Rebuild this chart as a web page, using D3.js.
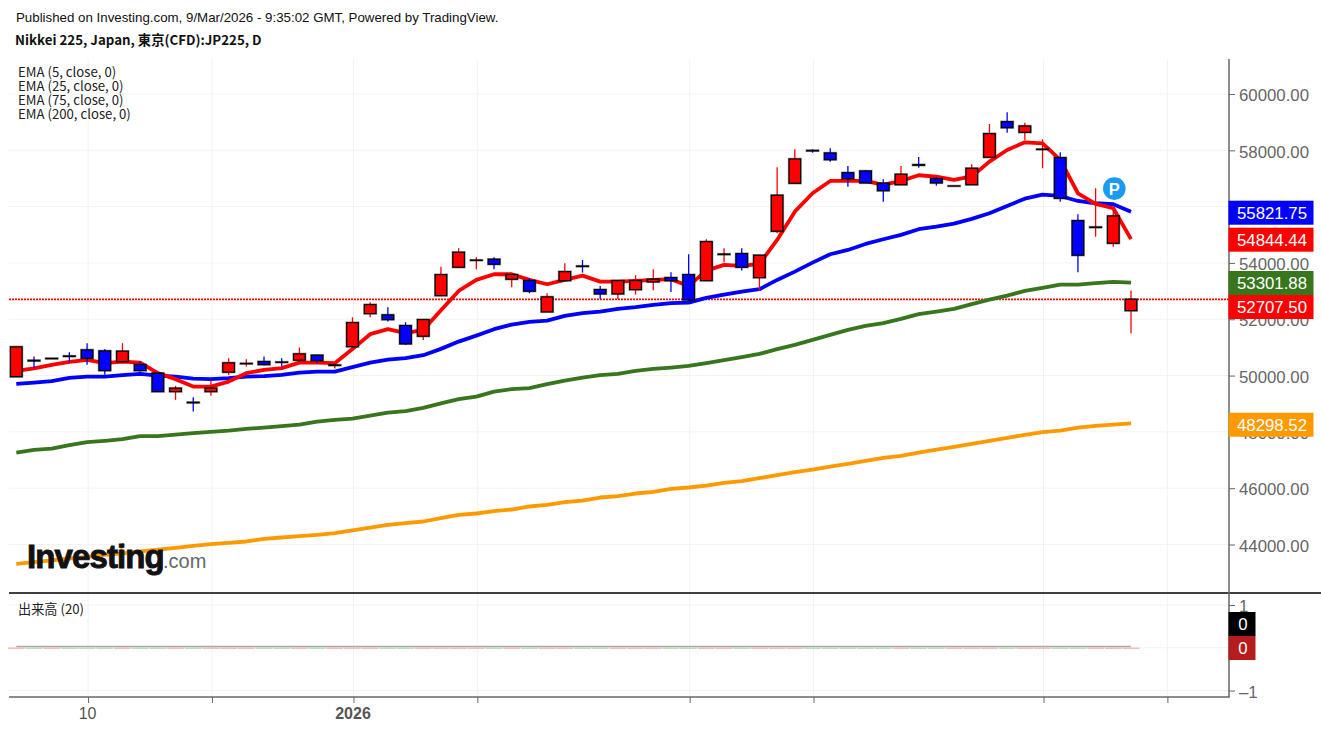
<!DOCTYPE html>
<html>
<head>
<meta charset="utf-8">
<script src="https://cdn.jsdelivr.net/npm/d3@7"></script>
<style>
html, body { margin: 0; padding: 0; background: #fff; }
svg { display: block; }
text { font-family: "Liberation Sans", Arial, sans-serif; }
</style>
</head>
<body>
<svg id="chart" width="1321" height="730"></svg>
<script>
// daily candles
var opens = [49960,50540,50600,50695,50912,50876,50497,50390,50085,49431,49050,49431,50121,50420,50497,50480,50546,50724,50360,51029,
  52201,52155,51775,51398,52840,53848,54090,54132,53422,53372,52261,53372,53890,53053,52900,53053,53326,53479,53585,53372,
  54300,54331,53479,55126,56830,57995,57906,57206,57267,56830,56780,57490,56993,56730,56780,57753,59017,58640,58030,57739,
  55502,55260,54700,52307];
var highs = [51020,50674,50620,50830,51150,50937,51150,50497,50085,49634,49233,49822,50618,50582,50674,50618,50994,50724,50440,52073,
  52605,52428,51895,51988,53869,54523,54203,54203,53635,53457,52925,53990,54107,53184,53372,53564,53777,53670,54309,54842,
  54523,54523,54274,57398,58037,58037,58072,57444,57291,56972,57444,57764,57043,56740,57504,58935,59350,58981,58392,57930,
  55729,56653,55953,53017];
var lows = [49960,50262,50590,50461,50380,50025,50497,50142,49430,49137,48722,49279,50025,50319,50369,50319,50532,50426,50248,51029,
  52073,51917,51090,51267,52829,53848,53777,53777,53138,52925,52261,53372,53656,52722,52722,52875,53031,52971,52662,53372,
  54025,53727,53017,55055,56830,57916,57597,56709,56830,56177,56780,57384,56745,56725,56780,57753,58626,58367,57362,56177,
  53670,54934,54579,51505];
var closes = [51020,50520,50610,50680,50618,50177,50866,50177,49431,49552,49035,49552,50451,50430,50390,50470,50770,50532,50375,51881,
  52520,51988,51125,51988,53585,54380,54100,53954,53585,52996,52794,53692,53875,52900,53372,53372,53422,53372,52687,54757,
  54315,53848,54274,56404,57693,57980,57668,56993,56841,56567,57149,57470,56841,56735,57362,58591,58804,58864,58040,56297,
  54274,55275,55669,52707];

var ema5 = [50167,50255,50380,50486,50557,50440,50497,50461,50085,49872,49609,49609,49787,50085,50202,50262,50461,50461,50440,50947,
  51469,51647,51505,51622,52321,53006,53397,53599,53599,53397,53244,53397,53550,53337,53337,53362,53397,53422,53184,53727,
  53930,53894,53965,54817,55822,56475,56912,56912,56912,56770,56912,57114,57064,56947,57071,57597,58012,58285,58250,57657,
  56475,56095,55942,54844];
var ema25 = [49705,49751,49801,49918,49964,49964,50014,50060,50000,49964,49893,49872,49907,49964,49978,50025,50106,50142,50142,50298,
  50461,50568,50618,50724,50948,51207,51420,51647,51810,51906,51952,52119,52215,52272,52368,52428,52510,52570,52591,52758,
  52875,52982,53067,53397,53692,54011,54309,54462,54675,54842,54995,55197,55289,55396,55563,55765,56024,56283,56425,56379,
  56201,56120,56085,55822];
var ema75 = [47266,47362,47408,47529,47635,47682,47742,47849,47849,47905,47955,48001,48047,48107,48154,48203,48260,48367,48427,48473,
  48580,48686,48736,48853,49013,49162,49254,49432,49517,49552,49695,49822,49929,50014,50060,50166,50237,50284,50344,50440,
  50546,50653,50770,50937,51090,51267,51445,51622,51764,51860,52012,52180,52272,52368,52535,52698,52840,53006,53113,53230,
  53230,53280,53326,53302];
var ema200 = [43315,43375,43440,43503,43564,43635,43688,43759,43819,43883,43954,44014,44060,44107,44202,44249,44298,44345,44405,44500,
  44603,44700,44760,44817,44937,45055,45101,45186,45243,45350,45410,45505,45562,45669,45718,45811,45871,45977,46024,46095,
  46191,46251,46357,46464,46571,46663,46769,46865,46972,47078,47149,47266,47373,47469,47575,47682,47788,47895,47991,48048,
  48154,48214,48260,48299];

var priceTicks = [44000,46000,48000,50000,52000,54000,56000,58000,60000];
var volumeTicks = [-1,0,1];
var dateTickIdx = [4,11,19,26,38,45,58,65];
var dateTickLabels = ["10","","2026","","","","",""];
var legendLabels = ["EMA (5, close, 0)","EMA (25, close, 0)","EMA (75, close, 0)","EMA (200, close, 0)"];
var lastPrice = 52707.5;
var volumes = closes.map(function() { return 0; });
var markerIdx = 62;
var markerPrice = 56640;

var svg = d3.select("#chart");
var x = d3.scaleLinear().domain([0, 63]).range([16.3, 1131]);
var y = d3.scaleLinear().domain([44000, 60000]).range([544.5, 94]);
var yVol = d3.scaleLinear().domain([-1, 1]).range([690.5, 605]);

var plotLeft = 9, plotRight = 1229, plotTop = 59, paneSep = 593, plotBottom = 697;
var axisCol = "#666", tickCol = "#666", gridCol = "#f3f3f3";

// grid
var grid = svg.append("g").attr("stroke", gridCol).attr("stroke-width", 1);
grid.selectAll(".gy").data(priceTicks).enter().append("line")
  .attr("x1", plotLeft).attr("x2", plotRight)
  .attr("y1", function(d) { return y(d); }).attr("y2", function(d) { return y(d); });
grid.selectAll(".gv").data(volumeTicks).enter().append("line")
  .attr("x1", plotLeft).attr("x2", plotRight)
  .attr("y1", function(d) { return yVol(d); }).attr("y2", function(d) { return yVol(d); });
grid.selectAll(".gx").data(dateTickIdx).enter().append("line")
  .attr("x1", function(d) { return x(d) + 1; }).attr("x2", function(d) { return x(d) + 1; })
  .attr("y1", plotTop).attr("y2", plotBottom);

// last price line
svg.append("line")
  .attr("x1", plotLeft).attr("x2", plotRight)
  .attr("y1", y(lastPrice)).attr("y2", y(lastPrice))
  .attr("stroke", "#ff0000").attr("stroke-width", 1.6).attr("stroke-dasharray", "2,1");

// moving averages
var line = d3.line().x(function(d, i) { return x(i); }).y(function(d) { return y(d); });
var emaSeries = [
  { values: ema200, color: "#ff9900" },
  { values: ema75, color: "#38761d" },
  { values: ema25, color: "#0000ff" },
  { values: ema5, color: "#ff0000" }
];
svg.selectAll(".ema").data(emaSeries).enter().append("path")
  .attr("fill", "none")
  .attr("stroke", function(d) { return d.color; })
  .attr("stroke-width", 3.8)
  .attr("stroke-linejoin", "round")
  .attr("d", function(d) { return line(d.values); });

// candles
var candles = svg.append("g").selectAll("g").data(closes).enter().append("g");
var isUp = function(i) { return closes[i] >= opens[i]; };
candles.append("line")
  .attr("x1", function(d, i) { return x(i); }).attr("x2", function(d, i) { return x(i); })
  .attr("y1", function(d, i) { return y(highs[i]); }).attr("y2", function(d, i) { return y(lows[i]); })
  .attr("stroke", function(d, i) { return isUp(i) ? "#ff0000" : "#0000ff"; })
  .attr("stroke-width", 1.3);
var bodyRect = function(sel) {
  sel.attr("x", function(d, i) { return x(i) - 5.8; })
    .attr("width", 11.6)
    .attr("y", function(d, i) { return y(Math.max(opens[i], closes[i])); })
    .attr("height", function(d, i) { return Math.abs(y(opens[i]) - y(closes[i])); });
};
candles.append("rect").call(bodyRect)
  .attr("fill", "none").attr("stroke", "#000").attr("stroke-opacity", 0.4).attr("stroke-width", 2.4);
candles.append("rect").call(bodyRect)
  .attr("fill", function(d, i) { return isUp(i) ? "#ff0000" : "#0000ff"; })
  .attr("stroke", "#000").attr("stroke-width", 1.2);

// marker
svg.append("circle").attr("cx", x(markerIdx) + 1).attr("cy", y(markerPrice)).attr("r", 11.3).attr("fill", "#1a9af0");
svg.append("text").attr("x", x(markerIdx) + 1).attr("y", y(markerPrice) + 6).attr("text-anchor", "middle")
  .attr("font-size", 16.5).attr("font-weight", "bold").attr("fill", "#fff").text("P");

// logo
svg.append("line").attr("x1", 121).attr("y1", 550).attr("x2", 123).attr("y2", 543)
  .attr("stroke", "#ff9900").attr("stroke-width", 2);
svg.append("text").attr("x", 27).attr("y", 568)
  .attr("font-size", 33).attr("font-weight", "bold").attr("letter-spacing", -0.9)
  .attr("fill", "#111").attr("stroke", "#111").attr("stroke-width", 0.9).text("Investing");
svg.append("text").attr("x", 163).attr("y", 568)
  .attr("font-size", 20).attr("fill", "#666").text(".com");

// volume pane
svg.selectAll(".vol").data(volumes).enter().append("rect")
  .attr("x", function(d, i) { return x(i) - 8.4; })
  .attr("width", 16.8)
  .attr("y", function(d) { return yVol(d) - 0.2; })
  .attr("height", 1.4)
  .attr("fill", function(d, i) { return isUp(i) ? "#f7b7b7" : "#b5e0b5"; });
var volLine = d3.line().x(function(d, i) { return x(i); }).y(function(d) { return yVol(d) - 1.2; });
svg.append("path").attr("fill", "none").attr("stroke", "#aaa").attr("stroke-width", 1.6).attr("d", volLine(volumes));

// frame
svg.append("line").attr("x1", plotLeft).attr("x2", 1321).attr("y1", paneSep).attr("y2", paneSep).attr("stroke", "#000").attr("stroke-width", 1.5);
svg.append("line").attr("x1", plotLeft).attr("x2", plotRight + 0.7).attr("y1", plotBottom).attr("y2", plotBottom).attr("stroke", axisCol).attr("stroke-width", 1.5);
svg.append("line").attr("x1", plotRight).attr("x2", plotRight).attr("y1", plotTop).attr("y2", plotBottom).attr("stroke", axisCol).attr("stroke-width", 1.5);

// axes
var styleAxis = function(g) {
  g.select(".domain").remove();
  g.selectAll("line").attr("stroke", tickCol).attr("stroke-width", 1);
  g.selectAll("text").attr("fill", tickCol).attr("font-size", 16.8).attr("font-family", "Liberation Sans").attr("dy", "0.4em");
};
svg.append("g").attr("transform", "translate(" + plotRight + ",0)")
  .call(d3.axisRight(y).tickValues(priceTicks).tickSize(6).tickPadding(4).tickFormat(function(d) { return d.toFixed(2); }))
  .call(styleAxis);
svg.append("g").attr("transform", "translate(" + plotRight + ",0)")
  .call(d3.axisRight(yVol).tickValues(volumeTicks).tickSize(6).tickPadding(4).tickFormat(function(d) { return String(d).replace("-", "–"); }))
  .call(styleAxis);
svg.append("g").attr("transform", "translate(1," + plotBottom + ")")
  .call(d3.axisBottom(x).tickValues(dateTickIdx).tickSize(6).tickPadding(5).tickFormat(function(d, i) { return dateTickLabels[i]; }))
  .call(styleAxis)
  .selectAll("text").attr("font-size", 16).attr("fill", "#555").attr("dy", "0.71em").attr("dx", -1)
  .attr("font-weight", function(d, i) { return dateTickLabels[i] === "2026" ? "bold" : "normal"; });

// price labels on the right
var priceBoxes = [
  { text: "55821.75", color: "#0000ff", cy: 212.7, w: 85 },
  { text: "54844.44", color: "#ff0000", cy: 239.7, w: 85 },
  { text: "53301.88", color: "#38761d", cy: 283, w: 85 },
  { text: "52707.50", color: "#ff0000", cy: 307, w: 85 },
  { text: "48298.52", color: "#ff9900", cy: 424.7, w: 85 },
  { text: "0", color: "#000000", cy: 624, w: 27 },
  { text: "0", color: "#b71c1c", cy: 648, w: 27 }
];
var boxes = svg.selectAll(".box").data(priceBoxes).enter().append("g");
boxes.append("rect")
  .attr("x", 1228.5).attr("y", function(d) { return d.cy - 12; })
  .attr("width", function(d) { return d.w; }).attr("height", 24)
  .attr("fill", function(d) { return d.color; });
boxes.append("text")
  .attr("x", function(d) { return 1228.5 + d.w / 2 + 1; })
  .attr("y", function(d) { return d.cy + 6; })
  .attr("text-anchor", "middle").attr("font-size", 16.8).attr("fill", "#fff")
  .text(function(d) { return d.text; });

// header
svg.append("text").attr("x", 16).attr("y", 22).attr("font-size", 13.3).attr("fill", "#111")
  .text("Published on Investing.com, 9/Mar/2026 - 9:35:02 GMT, Powered by TradingView.");
svg.append("text").attr("x", 15).attr("y", 45).attr("font-size", 13.3).attr("font-weight", "bold").attr("fill", "#111")
  .style("font-family", "'Noto Sans CJK JP'")
  .text("Nikkei 225, Japan, 東京(CFD):JP225, D");

// legend
svg.selectAll(".legend").data(legendLabels).enter().append("text")
  .attr("x", 18).attr("y", function(d, i) { return 76.5 + i * 14; })
  .attr("font-size", 13.2).attr("fill", "#222")
  .style("font-family", "'Noto Sans CJK JP'")
  .text(function(d) { return d; });
svg.append("text").attr("x", 18).attr("y", 613.5).attr("font-size", 13.2).attr("fill", "#222")
  .style("font-family", "'Noto Sans CJK JP'")
  .text("出来高 (20)");
</script>
</body>
</html>
